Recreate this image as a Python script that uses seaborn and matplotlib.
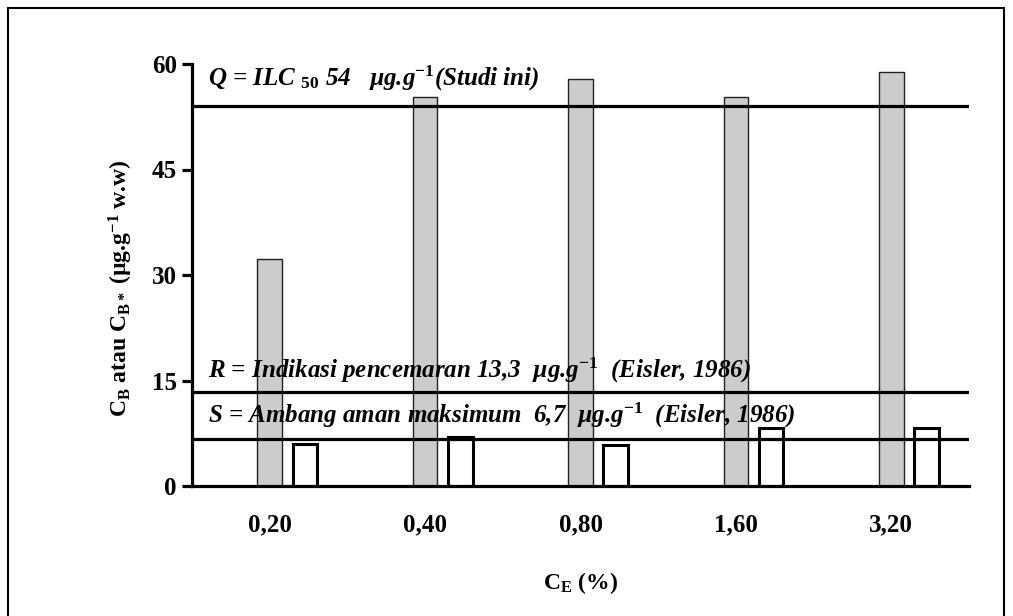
import numpy as np
import pandas as pd
import matplotlib
matplotlib.use("Agg")
import matplotlib.pyplot as plt
from matplotlib.patches import Rectangle
import matplotlib.transforms as mtransforms
import seaborn as sns

# Data
concentrations = ["0,20", "0,40", "0,80", "1,60", "3,20"]
cb_values = [32.3, 55.3, 57.8, 55.3, 58.9]       # C_B
cb_star_values = [6.0, 7.0, 5.8, 8.3, 8.3]       # C_B*
ref_levels = [54.0, 13.3, 6.7]                   # Q, R, S
ref_labels = [
    r"Q = ILC $_{\mathit{50}}$ 54   µg.g$^{\mathit{-1}}$(Studi ini)",
    r"R = Indikasi pencemaran 13,3  µg.g$^{\mathit{-1}}$  (Eisler, 1986)",
    r"S = Ambang aman maksimum  6,7  µg.g$^{\mathit{-1}}$  (Eisler, 1986)",
]
ref_text_y = [57.0, 15.4, 9.0]

df = pd.DataFrame({
    "CE": concentrations * 2,
    "value": cb_values + cb_star_values,
    "series": ["CB"] * len(cb_values) + ["CB*"] * len(cb_star_values),
})

sns.set_theme(style="white")
plt.rcParams["font.family"] = ["Liberation Serif", "DejaVu Serif"]
plt.rcParams["mathtext.fontset"] = "custom"
plt.rcParams["mathtext.rm"] = "Liberation Serif:bold"
plt.rcParams["mathtext.it"] = "Liberation Serif:italic:bold"
plt.rcParams["mathtext.bf"] = "Liberation Serif:bold"
for key in ["text.color", "axes.labelcolor", "xtick.color", "ytick.color"]:
    plt.rcParams[key] = "black"

fig = plt.figure(figsize=(10.13, 6.16), dpi=100)
ax = fig.add_axes([192 / 1013, 1 - 486 / 616, (969 - 192) / 1013, (486 - 64) / 616])

sns.barplot(
    data=df, x="CE", y="value", hue="series",
    palette={"CB": "#cccccc", "CB*": "white"},
    width=0.452, gap=0.3, legend=False, ax=ax, zorder=2,
)

grey_bars, white_bars = ax.containers[0], ax.containers[1]
for p in grey_bars:
    p.set_edgecolor("#222222")
    p.set_linewidth(1.0)
for p in white_bars:
    p.set_edgecolor("black")
    p.set_linewidth(2.2)

half = 0.452 / 4
ax.set_xlim(-0.5 - half, 4.5 - half)
ax.set_ylim(0, 60)

# Reference levels
for lvl in ref_levels:
    ax.axhline(lvl, color="black", lw=2.3, zorder=4)

trans = mtransforms.blended_transform_factory(ax.transAxes, ax.transData)
for lab, ty in zip(ref_labels, ref_text_y):
    ax.text(0.02, ty, lab, transform=trans, fontsize=18, fontweight="bold",
            fontstyle="italic", va="baseline", ha="left", zorder=5)

# Axes styling
for side in ["top", "right"]:
    ax.spines[side].set_visible(False)
for side in ["left", "bottom"]:
    ax.spines[side].set_linewidth(2.3)
    ax.spines[side].set_color("black")

ax.set_yticks([0, 15, 30, 45, 60])
ax.set_xticks(np.arange(len(concentrations)) - half, concentrations)
ax.tick_params(axis="y", direction="out", length=7, width=2.3, pad=4,
               labelsize=18, left=True)
ax.tick_params(axis="x", length=0, pad=20, labelsize=18)
for t in ax.get_xticklabels() + ax.get_yticklabels():
    t.set_fontweight("bold")

ax.set_xlabel(r"C$_\mathrm{E}$ (%)", fontsize=17, fontweight="bold")
ax.set_ylabel(r"C$_\mathrm{B}$ atau C$_\mathrm{B*}$ (µg.g$^\mathrm{-1}$ w.w)",
              fontsize=17, fontweight="bold")
ax.xaxis.set_label_coords(0.5, -0.2)
ax.yaxis.set_label_coords(-0.073, 0.47)

# Outer frame
fig.patches.append(Rectangle((8 / 1013, -0.02), (1004 - 8) / 1013, 1.02 - 8 / 616,
                             transform=fig.transFigure, fill=False,
                             edgecolor="black", lw=1.5))

fig.savefig("out.png", dpi=100, facecolor="white")
